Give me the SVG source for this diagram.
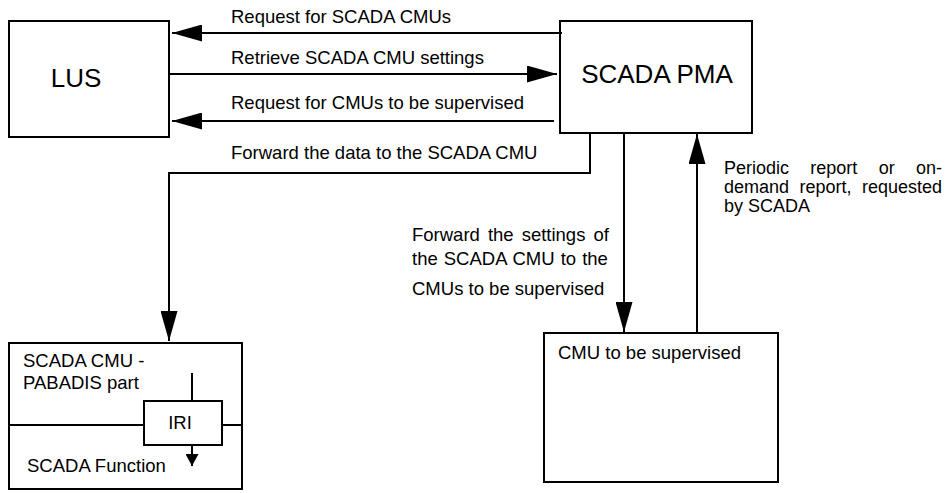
<svg xmlns="http://www.w3.org/2000/svg" width="947" height="493" viewBox="0 0 947 493">
<style>
.box{fill:#fff;stroke:#000;stroke-width:2}
.ln{fill:none;stroke:#000;stroke-width:2}
.t{font-family:"Liberation Sans",Arial,sans-serif;font-size:18.5px;fill:#000}
.s{font-family:"Liberation Sans",Arial,sans-serif;font-size:18px;fill:#000}
.big{font-family:"Liberation Sans",Arial,sans-serif;font-size:26px;fill:#000}
</style>
<defs>
<marker id="ahs" viewBox="0 0 10 10" refX="10" refY="5" markerWidth="12" markerHeight="13" markerUnits="userSpaceOnUse" orient="auto" preserveAspectRatio="none">
<path d="M0,0 L10,5 L0,10 z" fill="#000"/>
</marker>
<marker id="ahl" viewBox="0 0 10 10" refX="10" refY="5" markerWidth="30" markerHeight="17" markerUnits="userSpaceOnUse" orient="auto" preserveAspectRatio="none">
<path d="M0,0 L10,5 L0,10 z" fill="#000"/>
</marker>
</defs>
<g id="lus">
<rect class="box" x="9" y="21" width="160" height="116"/>
<text class="big" x="76" y="87" text-anchor="middle">LUS</text>
</g>
<g id="scada-pma">
<rect class="box" x="560" y="21" width="192" height="112"/>
<text class="big" x="657" y="83" text-anchor="middle">SCADA PMA</text>
</g>
<g id="scada-cmu">
<rect class="box" x="9" y="343" width="233" height="146"/>
<text class="t" x="23" y="367">SCADA CMU -</text>
<text class="t" x="23" y="389">PABADIS part</text>
<text class="t" x="27" y="472">SCADA Function</text>
<line class="ln" x1="10" y1="425" x2="144" y2="425"/>
<line class="ln" x1="222" y1="425" x2="241" y2="425"/>
<line class="ln" x1="192" y1="373" x2="192" y2="401"/>
<line class="ln" x1="192" y1="445" x2="192" y2="466" marker-end="url(#ahs)"/>
<g id="iri">
<rect class="box" x="144" y="401" width="78" height="44"/>
<text class="t" x="180" y="429" text-anchor="middle">IRI</text>
</g>
</g>
<g id="cmu-supervised">
<rect class="box" x="544" y="333" width="234" height="149"/>
<text class="t" x="558" y="359">CMU to be supervised</text>
</g>
<g id="connectors">
<line class="ln" x1="562" y1="33" x2="172" y2="33" marker-end="url(#ahl)"/>
<line class="ln" x1="169" y1="74" x2="557" y2="74" marker-end="url(#ahl)"/>
<line class="ln" x1="554" y1="121" x2="172" y2="121" marker-end="url(#ahl)"/>
<polyline class="ln" points="590,134 590,173 169,173 169,341" marker-end="url(#ahl)"/>
<line class="ln" x1="624" y1="134" x2="624" y2="332" marker-end="url(#ahl)"/>
<line class="ln" x1="697" y1="332" x2="697" y2="134" marker-end="url(#ahl)"/>
</g>
<g id="labels">
<text class="t" x="231" y="23">Request for SCADA CMUs</text>
<text class="t" x="231" y="64">Retrieve SCADA CMU settings</text>
<text class="t" x="231" y="109">Request for CMUs to be supervised</text>
<text class="t" x="231" y="159">Forward the data to the SCADA CMU</text>
<text class="t" x="412" y="241" word-spacing="2.9">Forward the settings of</text>
<text class="t" x="412" y="265" word-spacing="0.9">the SCADA CMU to the</text>
<text class="t" x="412" y="295">CMUs to be supervised</text>
<text class="s" x="724" y="174" word-spacing="16.3">Periodic report or on-</text>
<text class="s" x="724" y="193" word-spacing="5.5">demand report, requested</text>
<text class="s" x="724" y="212">by SCADA</text>
</g>
</svg>
